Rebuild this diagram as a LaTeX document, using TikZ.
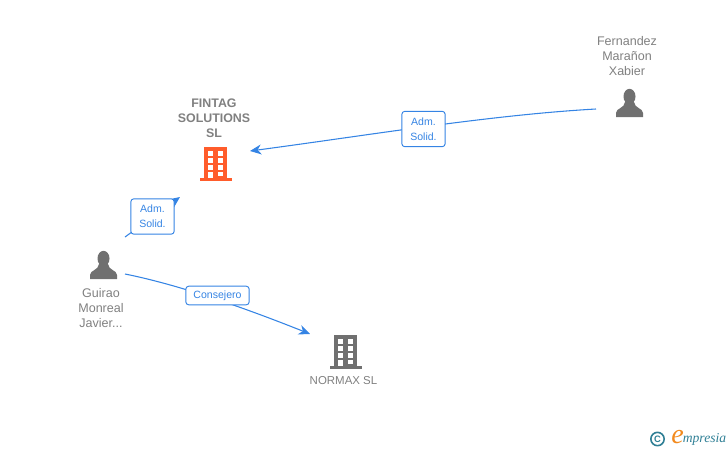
\documentclass[tikz,border=0pt]{standalone}
\usepackage{fontspec}
\setmainfont{Liberation Sans}
\newfontfamily\markfont{Liberation Serif}
\usetikzlibrary{arrows.meta}
\definecolor{linkblue}{HTML}{3584E4}
\definecolor{namegray}{HTML}{808080}
\definecolor{icongray}{HTML}{707070}
\definecolor{iconorange}{HTML}{FF5C2B}
\definecolor{marktext}{HTML}{2F7F95}
\definecolor{markorange}{HTML}{F28A1E}
\tikzset{
	link/.style={draw=linkblue,line width=0.8pt,-{Stealth[length=8.5pt,width=7.5pt]}},
	tagbox/.style={draw=linkblue,fill=white,rounded corners=2.2pt,line width=0.7pt,text=linkblue,align=center,inner sep=0pt,font=\fontsize{7.9}{11.2}\selectfont},
	caption/.style={text=namegray,align=center,inner sep=0pt,font=\fontsize{9.4}{11.25}\selectfont},
	pics/building/.style={code={
		\fill[#1] (-11.5,-17) rectangle (11.5,14);
		\fill[#1] (-16,14) rectangle (16,17);
		\foreach \wx in {-8,2}
			\foreach \wy in {-13,-6,1}
				\fill[white] (\wx,\wy) rectangle (\wx+5,\wy+4.5);
		\fill[white] (2,7.5) rectangle (7,12);
		\fill[white] (-8,7.5) rectangle (-3,14);
	}},
	pics/person/.style={code={
		\fill[icongray] (0,-6.5) ellipse (6 and 7.7);
		\fill[icongray] (-13.5,14) -- (-13.5,10) .. controls (-13.5,5) and (-5,5.5) .. (-4.5,-1) -- (4.5,-1) .. controls (5,5.5) and (13.5,5) .. (13.5,10) -- (13.5,14) -- cycle;
	}}
}
\begin{document}
\begin{tikzpicture}[x=0.75pt,y=-0.75pt]
	\useasboundingbox (0,0) rectangle (728,450);
	% people and companies
	\path (215.5,164) pic {building=iconorange};
	\path (345.5,352) pic {building=icongray};
	\path (629.5,103) pic {person};
	\path (103.5,265) pic {person};
	\path (214,118.5) node[caption,font=\bfseries\fontsize{9.3}{11.25}\selectfont] (fintag) {FINTAG\\SOLUTIONS\\SL};
	\path (343.5,381) node[caption,font=\fontsize{8.6}{11}\selectfont] (normax) {NORMAX SL};
	\path (627,56) node[caption] (xabier) {Fernandez\\Marañon\\Xabier};
	\path (101,308) node[caption] (guirao) {Guirao\\Monreal\\Javier...};
	% link ends
	\coordinate (xabierout) at (596,109);
	\coordinate (fintagright) at (250,151);
	\coordinate (guiraotop) at (125,237);
	\coordinate (fintagleft) at (180,197);
	\coordinate (guiraoright) at (125,274);
	\coordinate (normaxin) at (310,334);
	\draw[link] (xabierout) .. controls (490,115) and (370,135) .. (fintagright);
	\draw[link] (guiraotop) -- (fintagleft);
	\draw[link] (guiraoright) .. controls (170,283) and (230,302) .. (normaxin);
	% tags
	\path (423.5,129) node[tagbox,minimum width=32.5pt,minimum height=26.5pt] (tagxabier) {Adm.\\Solid.};
	\path (152.5,216.5) node[tagbox,minimum width=32.5pt,minimum height=26.5pt] (tagguirao) {Adm.\\Solid.};
	\path (217.5,295.5) node[tagbox,minimum width=47.5pt,minimum height=14pt] (tagnormax) {Consejero};
	% mark
	\path (657.5,439) node[draw=marktext,circle,line width=1.2pt,inner sep=0pt,minimum size=10pt,text=marktext,font=\bfseries\fontsize{7}{7}\selectfont] (markc) {C};
	\path (677.5,437.5) node[text=markorange,inner sep=0pt,font=\markfont\itshape\fontsize{21}{21}\selectfont] (marke) {e};
	\path (704.5,439.5) node[text=marktext,inner sep=0pt,font=\markfont\itshape\fontsize{10.2}{10.2}\selectfont] (markname) {mpresia};
\end{tikzpicture}
\end{document}
